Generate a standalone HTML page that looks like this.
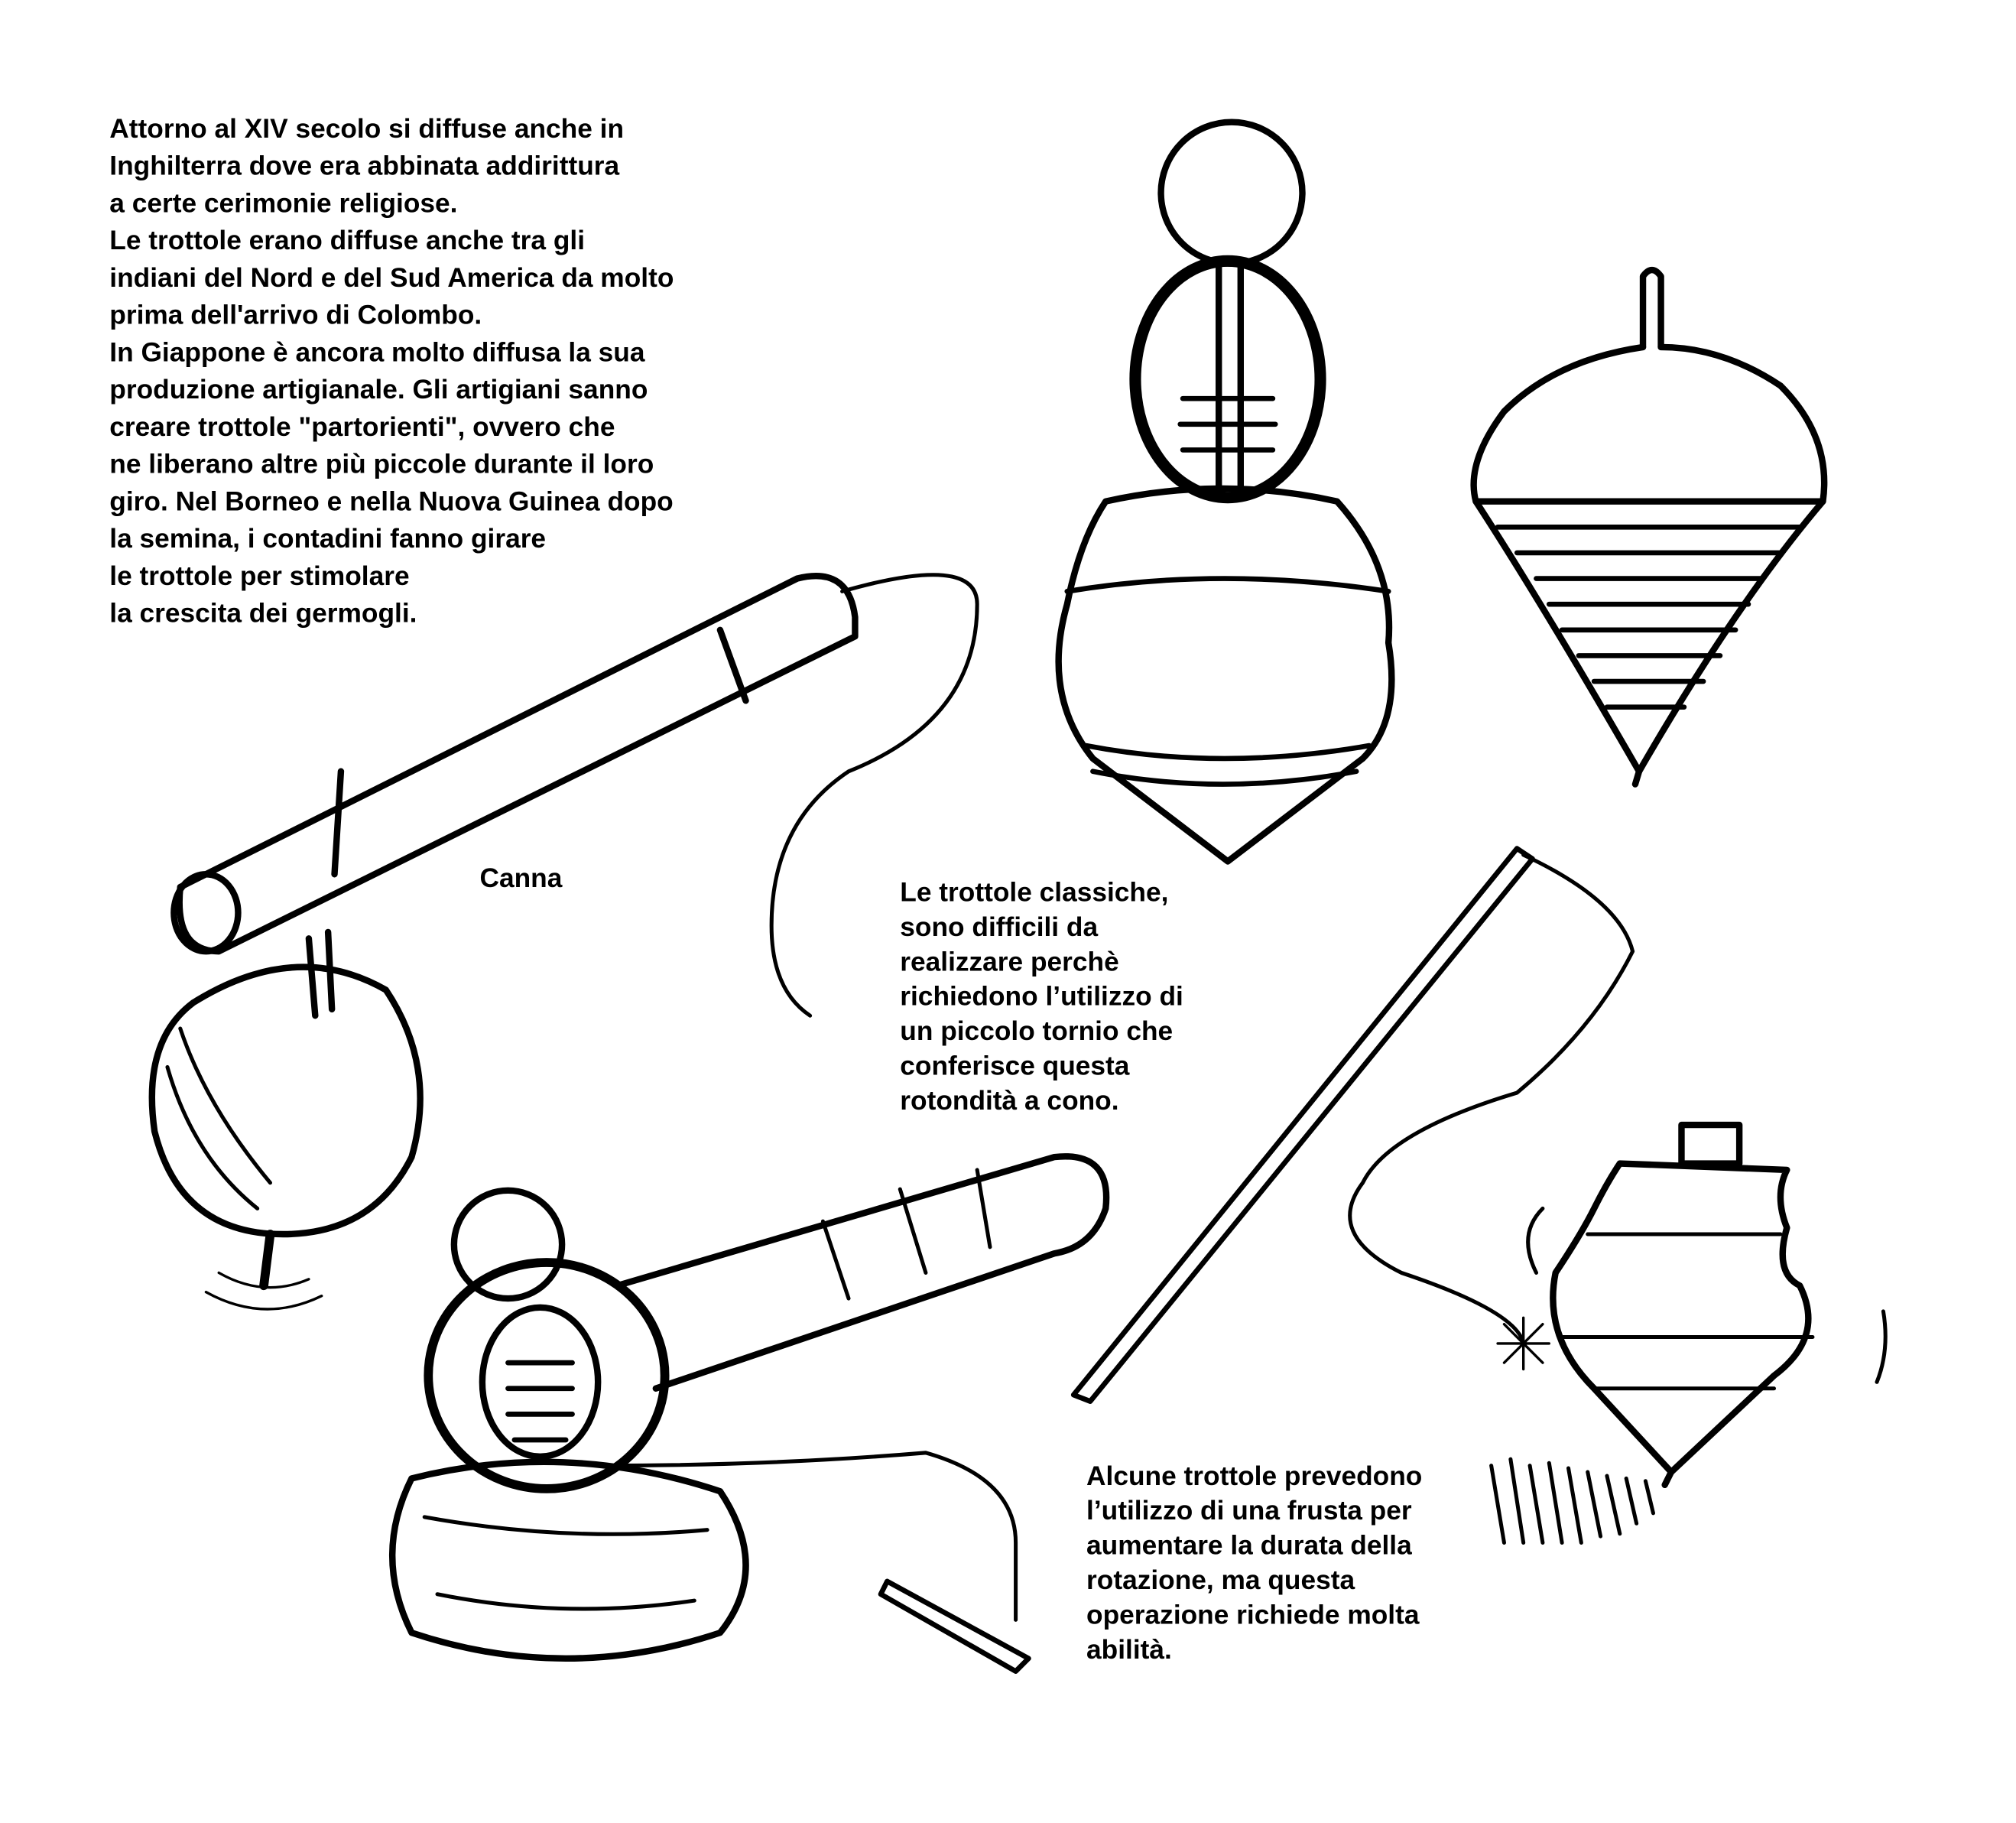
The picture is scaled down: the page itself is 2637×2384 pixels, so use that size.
<!DOCTYPE html>
<html><head><meta charset="utf-8"><style>
html,body{margin:0;padding:0;background:#fff;}
svg{display:block;}
text{font-family:"Liberation Sans",sans-serif;font-size:21px;font-weight:bold;fill:#000;}
</style></head><body>
<svg width="2637" height="2384" viewBox="0 0 1568 1418" xmlns="http://www.w3.org/2000/svg">
<g>
<text x="85" y="107">Attorno al XIV secolo si diffuse anche in</text>
<text x="85" y="136">Inghilterra dove era abbinata  addirittura</text>
<text x="85" y="165">a certe cerimonie religiose.</text>
<text x="85" y="194">Le trottole erano diffuse anche tra gli</text>
<text x="85" y="223">indiani del Nord e del Sud America da molto</text>
<text x="85" y="252">prima dell'arrivo di Colombo.</text>
<text x="85" y="281">In Giappone è ancora molto diffusa la sua</text>
<text x="85" y="310">produzione artigianale. Gli artigiani sanno</text>
<text x="85" y="339">creare trottole "partorienti", ovvero che</text>
<text x="85" y="368">ne liberano altre più piccole durante il loro</text>
<text x="85" y="397">giro. Nel Borneo e nella Nuova Guinea dopo</text>
<text x="85" y="426">la semina, i contadini fanno girare</text>
<text x="85" y="455"> le trottole per stimolare</text>
<text x="85" y="484"> la crescita dei germogli.</text>
<text x="373" y="690">Canna</text>
<text x="700" y="701">Le trottole classiche,</text>
<text x="700" y="728">sono difficili da</text>
<text x="700" y="755">realizzare perchè</text>
<text x="700" y="782">richiedono l’utilizzo di</text>
<text x="700" y="809">un piccolo tornio che</text>
<text x="700" y="836">conferisce  questa</text>
<text x="700" y="863">rotondità a cono.</text>
<text x="845" y="1155">Alcune trottole prevedono</text>
<text x="845" y="1182">l’utilizzo di una frusta per</text>
<text x="845" y="1209">aumentare la durata della</text>
<text x="845" y="1236">rotazione, ma questa</text>
<text x="845" y="1263">operazione richiede molta</text>
<text x="845" y="1290">abilità.</text>
</g>
<g fill="none" stroke="#000" stroke-width="5" stroke-linecap="round" stroke-linejoin="round">
<circle cx="958" cy="150" r="55"/>
<path d="M948 205 L948 380 M965 205 L965 380"/>
<ellipse cx="955" cy="295" rx="72" ry="92" stroke-width="9"/>
<path d="M920 310 h70 M918 330 h74 M920 350 h70" stroke-width="4"/>
<path d="M860 390 Q950 370 1040 390 Q1085 440 1080 500 Q1090 560 1060 590 L955 670 L850 590 Q810 540 830 470 Q840 420 860 390 Z"/>
<path d="M830 460 Q950 440 1080 460 M845 580 Q950 600 1065 580 M850 600 Q950 620 1055 600" stroke-width="4"/>
<path d="M1278 270 L1278 215 Q1285 205 1292 215 L1292 270"/>
<path d="M1278 270 Q1210 280 1170 320 Q1140 360 1148 390 L1418 390 Q1425 340 1385 300 Q1340 270 1292 270"/>
<path d="M1148 390 Q1200 470 1275 600 Q1350 470 1418 390"/>
<path d="M1165 410 h235 M1180 430 h205 M1195 450 h175 M1205 470 h155 M1215 490 h135 M1228 510 h110 M1240 530 h85 M1250 550 h60" stroke-width="4"/>
<path d="M1275 600 L1272 610"/>
<path d="M140 690 L620 450 Q660 440 665 480 L665 495 L170 740 Q135 740 140 690 Z"/>
<path d="M560 490 L580 545 M265 600 L260 680"/>
<path d="M655 460 Q760 430 760 470 Q760 560 660 600 Q600 640 600 720 Q600 770 630 790" stroke-width="3"/>
<ellipse cx="160" cy="710" rx="25" ry="30"/>
<path d="M240 730 L245 790 M255 725 L258 785"/>
<path d="M150 780 Q230 730 300 770 Q340 830 320 900 Q290 960 220 960 Q140 960 120 880 Q110 810 150 780 Z"/>
<path d="M130 830 Q150 900 200 940 M140 800 Q160 860 210 920" stroke-width="3"/>
<path d="M210 960 L205 1000" stroke-width="7"/>
<path d="M170 990 Q205 1010 240 995 M160 1005 Q205 1030 250 1008" stroke-width="2"/>
<circle cx="395" cy="968" r="42"/>
<path d="M480 1000 L820 900 Q865 895 860 940 Q850 970 820 975 L510 1080"/>
<path d="M640 950 L660 1010 M700 925 L720 990 M760 910 L770 970" stroke-width="3"/>
<ellipse cx="425" cy="1070" rx="92" ry="88" stroke-width="7"/>
<ellipse cx="420" cy="1075" rx="45" ry="58"/>
<path d="M395 1060 h50 M395 1080 h50 M395 1100 h50 M400 1120 h40" stroke-width="4"/>
<path d="M320 1150 Q440 1120 560 1160 Q600 1220 560 1270 Q440 1310 320 1270 Q290 1210 320 1150 Z"/>
<path d="M330 1180 Q440 1200 550 1190 M340 1240 Q440 1260 540 1245" stroke-width="3"/>
<path d="M470 1140 Q600 1140 720 1130 Q790 1150 790 1200 L790 1260" stroke-width="3"/>
<path d="M690 1230 L800 1290 L790 1300 L685 1240 Z" stroke-width="4"/>
<path d="M835 1085 L1180 660 L1192 668 L848 1090 Z" stroke-width="4"/>
<path d="M1185 665 Q1260 700 1270 740 Q1240 800 1180 850 Q1080 880 1060 920 Q1030 960 1090 990 Q1180 1020 1185 1045" stroke-width="3"/>
<path d="M1170 1030 l30 30 M1200 1030 l-30 30 M1185 1025 v40 M1165 1045 h40" stroke-width="2"/>
<rect x="1308" y="875" width="45" height="30"/>
<path d="M1260 905 L1390 910 Q1380 930 1390 955 Q1380 990 1400 1000 Q1420 1040 1380 1070 L1300 1145 L1240 1080 Q1200 1040 1210 990 Q1230 960 1240 940 Q1250 920 1260 905 Z"/>
<path d="M1235 960 h150 M1215 1040 h195 M1240 1080 h140" stroke-width="3"/>
<path d="M1300 1145 L1295 1155"/>
<path d="M1200 940 Q1180 960 1195 990 M1465 1020 Q1470 1050 1460 1075" stroke-width="3"/>
<path d="M1160 1140 l10 60 M1175 1135 l10 65 M1190 1140 l10 60 M1205 1138 l10 62 M1220 1142 l10 58 M1235 1145 l10 50 M1250 1148 l10 45 M1265 1150 l8 35 M1280 1152 l6 25" stroke-width="3"/>
</g>
</svg>
</body></html>
